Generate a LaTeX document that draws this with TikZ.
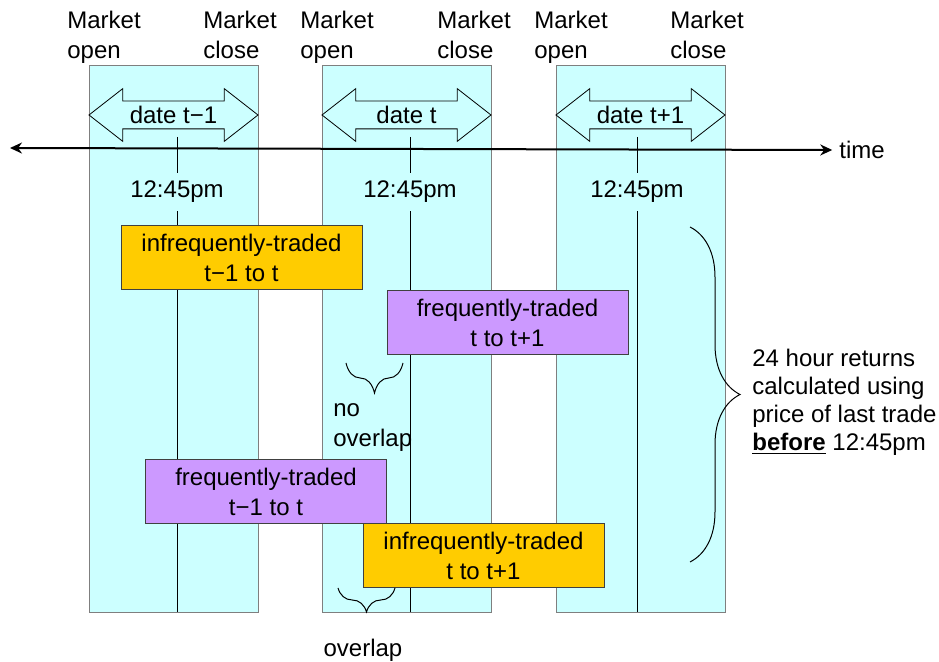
\documentclass[tikz,border=0pt]{standalone}
\usepackage{fontspec}
\setmainfont{Liberation Sans}
\usetikzlibrary{arrows.meta,positioning,shapes.arrows,decorations.pathreplacing}
\definecolor{daycyan}{HTML}{CCFFFF}
\definecolor{gold}{HTML}{FFCC00}
\definecolor{lilac}{HTML}{CC99FF}
\definecolor{edge}{HTML}{7F7F7F}

\begin{document}
\begin{tikzpicture}[x=0.5pt,y=-0.5pt,>={Stealth[length=6pt,width=5.5pt]},font=\fontsize{12}{15}\selectfont,
  day/.style={draw=edge,fill=daycyan,minimum width=84.5pt,minimum height=273.5pt,inner sep=0},
  span/.style={double arrow,draw=black,line width=0.4pt,minimum height=84.5pt,double arrow head extend=6.25pt,
    double arrow tip angle=76,text height=9pt,text depth=0pt,inner xsep=0pt,inner ysep=2.25pt},
  mkt/.style={anchor=north west,align=left,inner sep=0},
  noon/.style={inner sep=4pt},
  ret/.style={draw=black!75,line width=0.5pt,minimum width=120.5pt,minimum height=32pt,align=center,inner sep=0},
  brc/.style={decorate,decoration={brace,amplitude=#1},line width=0.5pt}]
\useasboundingbox (0,0) rectangle (939,662);

% trading days
\node[day] (c1) at (173.5,338.5) {};
\node[day] (c2) at (406.5,338.5) {};
\node[day] (c3) at (640.5,338.5) {};

\node[mkt] (o1) at (67,11) {Market\\open};
\node[mkt] (e1) at (203,11) {Market\\close};
\node[mkt] (o2) at (300,11) {Market\\open};
\node[mkt] (e2) at (437,11) {Market\\close};
\node[mkt] (o3) at (534,11) {Market\\open};
\node[mkt] (e3) at (670,11) {Market\\close};

% 12:45pm marks
\node[noon] (t1) at (177,192) {12:45pm};
\node[noon] (t2) at (410,192) {12:45pm};
\node[noon] (t3) at (637,192) {12:45pm};
\draw (177,137) -- (t1.north); \draw (t1.south) -- (t1 |- c1.south);
\draw (410,137) -- (t2.north); \draw (t2.south) -- (t2 |- c2.south);
\draw (637,137) -- (t3.north); \draw (t3.south) -- (t3 |- c3.south);

% time axis
\node (time) at (862,150) {time};
\coordinate (tl) at (10,148);
\draw[<->,line width=1pt] (tl) -- (time.west);

\node[span] (d1) at (173.5,115) {date t−1};
\node[span] (d2) at (406.5,115) {date t};
\node[span] (d3) at (640.5,115) {date t+1};

% return windows
\node[ret,fill=gold] (it1) at (241.5,258) {infrequently-traded\\t−1 to t};
\node[ret,fill=lilac] (ft2) at (507.5,323) {frequently-traded\\t to t+1};
\node[ret,fill=lilac] (ft1) at (266,491.5) {frequently-traded\\t−1 to t};
\node[ret,fill=gold] (it2) at (483.5,556) {infrequently-traded\\t to t+1};

% braces
\draw[brc=15pt] (403,363) -- (346,363);
\node[mkt] (nov) at (333,403) {no\\overlap};
\draw[brc=12pt] (395,588) -- (338,588);
\node (ov) at (363,650) {overlap};
\draw[brc=25pt] (690,227) -- (690,562);
\node[mkt,font=\fontsize{12}{14}\selectfont] (note) at (752,349)
  {24 hour returns\\calculated using\\price of last trade\\\underline{\textbf{before}} 12:45pm};
\end{tikzpicture}
\end{document}
